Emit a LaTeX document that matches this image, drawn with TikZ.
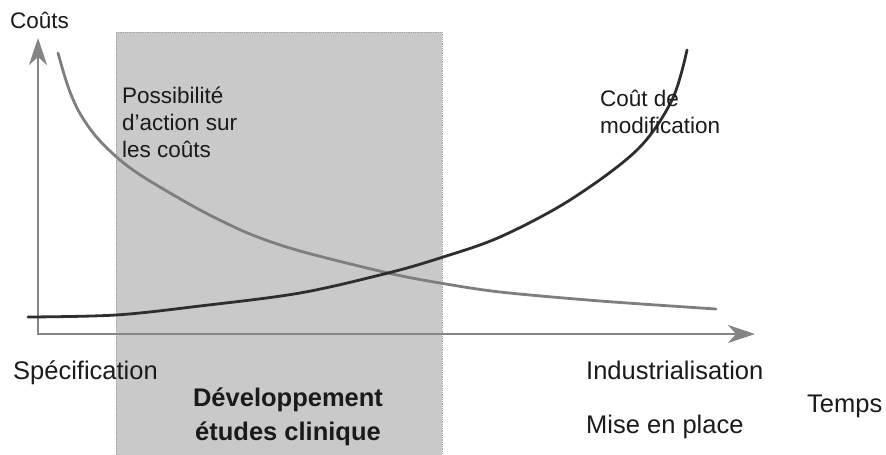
\documentclass[tikz,border=0pt]{standalone}
\usepackage{fontspec}
\setmainfont{Liberation Sans}
\usetikzlibrary{arrows.meta}
\definecolor{phasefill}{HTML}{C9C9C9}
\definecolor{phaseline}{HTML}{A5A5A5}
\definecolor{axisgray}{HTML}{858585}
\definecolor{darkcurve}{HTML}{2E2E2E}
\definecolor{lightcurve}{HTML}{7E7E7E}
\definecolor{txt}{HTML}{1A1A1A}
\begin{document}
\begin{tikzpicture}[x=1pt,y=-1pt,
  phase/.style={draw=phaseline, line width=0.8pt, densely dotted, fill=phasefill, inner sep=0pt, minimum width=326pt, minimum height=423pt},
  axisline/.style={draw=axisgray, line width=2.6pt, line join=miter, {Stealth[length=27pt,width=18pt,inset=8pt]}-{Stealth[length=27pt,width=18pt,inset=8pt]}},
  costcurve/.style={draw=darkcurve, line width=2.8pt, line cap=round},
  actioncurve/.style={draw=lightcurve, line width=2.8pt, line cap=round},
  biglbl/.style={inner sep=0pt, text=txt, font=\fontsize{25.5pt}{30pt}\selectfont},
  smllbl/.style={inner sep=0pt, text=txt, align=left, font=\fontsize{22.5pt}{27pt}\selectfont},
  boldlbl/.style={inner sep=0pt, text=txt, align=center, font=\bfseries\fontsize{25.5pt}{34pt}\selectfont}]
\useasboundingbox (0,0) rectangle (886,455);
\fill[white] (0,0) rectangle (886,455);
% development phase band
\node[phase, anchor=north west] (band) at (116,32) {};
% axes
\coordinate (ytip) at (38,38);
\coordinate (orig) at (38,334);
\coordinate (xtip) at (755,334);
\draw[axisline] (ytip) -- (orig) -- (xtip);
% decreasing curve: possibility of action on costs
\draw[actioncurve] plot[smooth, tension=0.5] coordinates {(58,53) (64,74) (70,92) (78,110) (88,126) (100,141) (120,160) (145,178) (200,210) (250,234) (300,251) (388,273) (440,283) (500,292) (600,301) (716,309)};
% increasing curve: cost of modification
\draw[costcurve] plot[smooth, tension=0.55] coordinates {(28,317) (116,315) (200,306) (300,293) (388,273) (440,258) (500,237) (570,200) (637,150) (672,100) (687,50)};
% labels
\node[smllbl, anchor=base west] (couts) at (10,28) {Coûts};
\node[smllbl, anchor=base west] (action) at (122,157) {Possibilité\\d'action sur\\les coûts};
\node[smllbl, anchor=base west] (modif) at (600,133) {Coût de\\modification};
\node[biglbl, anchor=base west] (spec) at (13,379) {Spécification};
\node[biglbl, anchor=base west] (indus) at (586,379) {Industrialisation};
\node[biglbl, anchor=base west] (mise) at (586,433) {Mise en place};
\node[biglbl, anchor=base west] (temps) at (807,412) {Temps};
\node[boldlbl, anchor=base] (dev) at (288,440) {Développement\\études clinique};
\end{tikzpicture}
\end{document}
